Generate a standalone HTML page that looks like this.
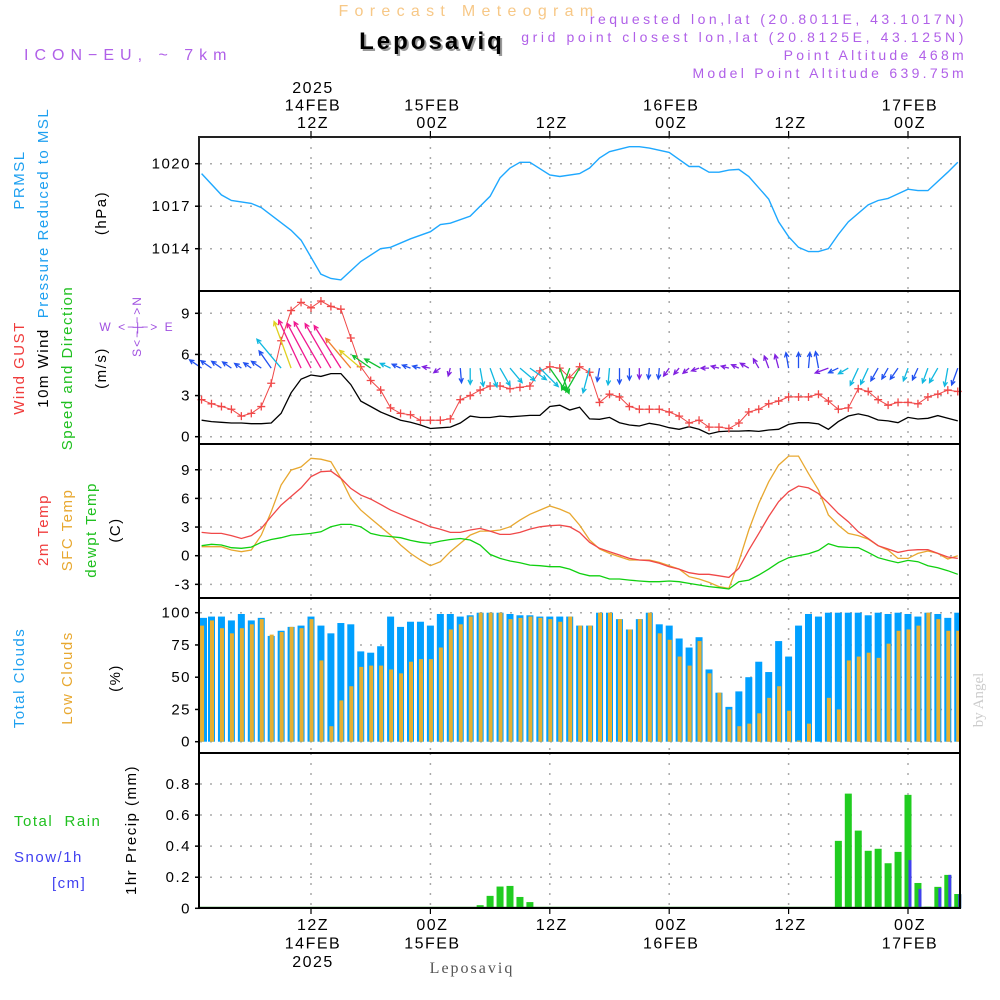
<!DOCTYPE html>
<html><head><meta charset="utf-8"><title>Meteogram Leposaviq</title>
<style>
html,body{margin:0;padding:0;background:#fff;}
svg{display:block;font-family:"Liberation Sans",sans-serif;}
.t{font-size:15px;letter-spacing:1.5px;}
</style></head>
<body>
<svg id="chart" width="1000" height="1000" viewBox="0 0 1000 1000">
<g id="texts">
<text x="469" y="16" text-anchor="middle" font-size="16" letter-spacing="6.3" fill="#f7c887">Forecast Meteogram</text>
<text x="432" y="49" text-anchor="middle" font-size="24" font-weight="bold" fill="#999" letter-spacing="3" transform="translate(2,2)">Leposaviq</text>
<text x="432" y="49" text-anchor="middle" font-size="24" font-weight="bold" fill="#000" letter-spacing="3">Leposaviq</text>
<text x="24" y="60" font-size="16" letter-spacing="6" fill="#b060e8">ICON−EU, ~ 7km</text>
<text x="967" y="24" text-anchor="end" font-size="14" letter-spacing="3.5" fill="#b060e8">requested lon,lat (20.8011E, 43.1017N)</text>
<text x="967" y="42" text-anchor="end" font-size="14" letter-spacing="3.6" fill="#b060e8">grid point closest lon,lat (20.8125E, 43.125N)</text>
<text x="967" y="60" text-anchor="end" font-size="14" letter-spacing="3.3" fill="#b060e8">Point Altitude 468m</text>
<text x="967" y="78" text-anchor="end" font-size="14" letter-spacing="3.3" fill="#b060e8">Model Point Altitude 639.75m</text>
<text x="472" y="973" text-anchor="middle" font-size="16" font-family="Liberation Serif, serif" letter-spacing="2" fill="#555">Leposaviq</text>
<text transform="translate(983,700) rotate(-90)" text-anchor="middle" font-size="15" font-family="Liberation Serif, serif" fill="#ccc">by Angel</text>
</g>
<g id="ylabels" class="t">
<text transform="translate(24,180) rotate(-90)" text-anchor="middle" fill="#1ea0f0">PRMSL</text>
<text transform="translate(48,213) rotate(-90)" text-anchor="middle" fill="#1ea0f0">Pressure Reduced to MSL</text>
<text transform="translate(106,213) rotate(-90)" text-anchor="middle" fill="#000">(hPa)</text>
<text transform="translate(24,368) rotate(-90)" text-anchor="middle" fill="#f03c3c">Wind GUST</text>
<text transform="translate(48,368) rotate(-90)" text-anchor="middle" fill="#000">10m Wind</text>
<text transform="translate(72,368) rotate(-90)" text-anchor="middle" fill="#20c020">Speed and Direction</text>
<text transform="translate(106,368) rotate(-90)" text-anchor="middle" fill="#000">(m/s)</text>
<text transform="translate(48,530) rotate(-90)" text-anchor="middle" fill="#f03c3c">2m Temp</text>
<text transform="translate(72,530) rotate(-90)" text-anchor="middle" fill="#e8a830">SFC Temp</text>
<text transform="translate(96,530) rotate(-90)" text-anchor="middle" fill="#20c020">dewpt Temp</text>
<text transform="translate(120,530) rotate(-90)" text-anchor="middle" fill="#000">(C)</text>
<text transform="translate(24,678) rotate(-90)" text-anchor="middle" fill="#1ea0f0">Total Clouds</text>
<text transform="translate(72,678) rotate(-90)" text-anchor="middle" fill="#e8a830">Low Clouds</text>
<text transform="translate(120,678) rotate(-90)" text-anchor="middle" fill="#000">(%)</text>
<text x="14" y="826" fill="#20c020">Total&#160;&#160;Rain</text>
<text x="14" y="862" fill="#4040f0">Snow/1h</text>
<text x="52" y="888" fill="#4040f0">[cm]</text>
<text transform="translate(136,830) rotate(-90)" text-anchor="middle" fill="#000">1hr Precip (mm)</text>
<g font-size="12" fill="#a050e0" letter-spacing="2">
<text x="137" y="331" text-anchor="middle">W &lt;−|−&gt; E</text>
<text transform="translate(137,326) rotate(-90)" text-anchor="middle" dy="4">S&lt;−|−&gt;N</text>
</g>
</g>
<g id="grid"></g>
<g id="marks"></g>
<g id="frames"></g>
<g id="axes" class="t"></g>
</svg>
<script>
// ---- data ----
const pHours = [1,3,4,6,7,10,11,13,14,15,17,19,20,22,24,25,26,28,30,31,32,33,34,36,37,39,40,41,42,44,45,46,48,49,50,51,52,53,54,55,56,58,59,60,61,62,63,64,65,66,68,69,70,72,73,74,76,77];
const pVals = [1019.3,1017.8,1017.4,1017.2,1016.9,1015.3,1014.6,1012.2,1011.9,1011.8,1013.1,1014.0,1014.1,1014.7,1015.2,1015.7,1015.8,1016.3,1017.7,1019.0,1019.7,1020.1,1020.1,1019.2,1019.1,1019.3,1019.7,1020.4,1020.85,1021.2,1021.2,1021.1,1020.8,1020.3,1019.8,1019.8,1019.4,1019.4,1019.55,1019.6,1019.1,1017.5,1015.9,1014.85,1014.1,1013.8,1013.8,1014.0,1015.0,1015.9,1017.1,1017.4,1017.55,1018.2,1018.1,1018.1,1019.4,1020.1];
const gust = [2.7,2.4,2.2,2.0,1.5,1.7,2.2,3.9,7.0,9.2, 9.8,9.4,9.9,9.5,9.3,7.2,5.1,4.1,3.4,2.1, 1.7,1.6,1.2,1.2,1.2,1.3,2.7,3.0,3.4,3.7, 3.7,3.5,3.6,3.7,4.8,5.1,5.0,4.3,5.1,4.7, 2.5,3.1,2.9,2.2,2.0,2.0,2.0,1.8,1.5,1.0, 1.2,0.7,0.7,0.6,1.0,1.8,2.0,2.4,2.6,2.9, 2.9,2.9,3.1,2.6,2.0,2.1,3.5,3.3,2.7,2.3, 2.5,2.5,2.4,2.9,3.1,3.4,3.3];
const wspd = [1.2,1.1,1.05,1.0,1.0,0.95,0.95,1.0,1.7,3.2, 4.2,4.5,4.4,4.6,4.6,3.8,2.6,2.2,1.8,1.5, 1.2,1.05,0.85,0.6,0.65,0.7,1.0,1.5,1.4,1.4, 1.5,1.45,1.5,1.55,1.55,2.2,2.3,1.95,2.15,1.3, 1.27,1.41,1.02,0.85,0.78,0.98,0.85,0.66,0.54,0.73, 0.54,0.2,0.37,0.41,0.41,0.44,0.39,0.49,0.54,0.9, 1.02,1.02,0.93,0.54,1.1,1.51,1.66,1.51,1.22,1.15, 1.02,1.41,1.29,1.34,1.54,1.34,1.15];
const wdir = [305,305,305,305,305,305,305,325,320,340, 335,332,330,330,328,320,310,305,300,295, 295,290,285,280,235,195,175,180,170,160, 150,140,130,125,135,145,160,200,210,195, 190,185,180,180,180,185,185,215,220,230, 250,270,285,285,295,300,330,340,345,350, 0,5,350,250,245,240,205,205,210,210, 215,200,205,200,210,190,200];
const t2m = [2.44,2.34,2.34,2.1,1.8,2.1,2.86,4.1,5.3,6.2, 7.1,8.27,8.8,8.86,8.1,7.05,6.35,5.93,5.37,4.78, 4.33,3.9,3.49,3.03,2.76,2.44,2.44,2.69,2.86,2.58, 2.23,2.23,2.44,2.79,3.03,3.14,3.2,3.03,2.44,1.4, 0.77,0.42,0.07,-0.28,-0.45,-0.52,-0.8,-1.15,-1.4,-1.78, -1.95,-1.95,-2.1,-2.27,-1.33,0.59,2.34,4.1,5.65,6.7, 7.3,7.1,6.5,5.5,4.43,3.56,2.5,1.8,1.05,0.7, 0.35,0.56,0.63,0.63,0.24,-0.14,-0.28];
const tsfc = [0.94,0.94,0.94,0.6,0.42,0.6,2.16,4.6,7.4,8.96, 9.3,10.2,10.1,9.84,8.1,6.0,4.78,3.9,3.03,2.16, 1.12,0.24,-0.45,-1.05,-0.63,0.42,1.29,2.16,2.58,2.58, 2.69,3.03,3.73,4.33,4.78,5.2,4.88,4.43,3.2,1.64, 0.7,0.24,-0.1,-0.45,-0.45,-0.45,-0.7,-1.05,-1.4,-2.2, -2.44,-2.8,-3.24,-3.42,-0.63,2.69,5.48,7.74,9.49,10.43, 10.43,8.6,6.87,4.26,3.2,2.34,2.1,1.74,1.05,0.59, -0.28,-0.28,0.24,0.49,0.24,-0.35,0];
const tdew = [1.05,1.19,1.12,0.84,0.77,0.9,1.4,1.7,1.88,2.16, 2.23,2.34,2.5,3.03,3.28,3.28,3.03,2.34,2.1,2.0, 1.88,1.6,1.4,1.29,1.53,1.7,1.8,1.64,1.12,0.14, -0.28,-0.56,-0.73,-0.98,-1.05,-1.15,-1.15,-1.4,-1.85,-2.1, -2.1,-2.44,-2.44,-2.55,-2.65,-2.72,-2.72,-2.65,-2.72,-2.9, -3.07,-3.24,-3.35,-3.49,-2.72,-2.55,-2.02,-1.4,-0.7,-0.21, 0,0.21,0.56,1.26,0.94,0.87,0.84,0.35,-0.21,-0.49, -0.73,-0.49,-0.63,-1.05,-1.26,-1.57,-1.95];
const totalClouds = [96,97,97,94,99,94,96,82,86,89, 90,97,90,84,92,91,70,69,74,97, 89,93,93,90,99,99,97,98,100,100, 100,99,98,98,97,97,97,97,90,90, 100,100,95,87,95,100,91,90,80,73, 81,56,38,27,39,50,62,54,78,66, 90,99,97,100,100,100,100,98,100,99, 100,99,97,100,99,96,100];
const lowClouds = [90,94,88,84,88,91,95,83,85,89, 88,95,63,12,32,43,58,59,59,56, 53,62,64,64,73,87,91,97,100,100, 100,95,96,97,96,95,93,97,90,90, 100,100,95,87,95,100,84,79,66,59, 78,53,38,25,12,14,22,34,43,24, 1,14,0,34,25,63,66,69,65,76, 86,87,90,100,95,86,86];
const rainHours = [29,30,31,32,33,34,35,65,66,67,68,69,70,71,72,73,74,75,76,77];
const rainVals = [0.02,0.08,0.14,0.144,0.073,0.04,0.005,0.434,0.738,0.5,0.37,0.383,0.29,0.363,0.73,0.163,0.01,0.138,0.215,0.092];
const snowHours = [33,71,72,73,75,76,77];
const snowVals = [0.005,0.005,0.31,0.125,0.13,0.215,0.09];
const pTicks = [1014,1017,1020];
const wTicks = [0,3,6,9];
const tTicks = [-3,0,3,6,9];
const cTicks = [0,25,50,75,100];
const rTicks = [0,0.2,0.4,0.6,0.8];
const topLabels = [["12Z","14FEB","2025"],["00Z","15FEB"],["12Z"],["00Z","16FEB"],["12Z"],["00Z","17FEB"]];
const gridHours = [12,24,36,48,60,72];

// ---- geometry ----
const L = 200, R = 960;
const X = h => 311 + (h - 12) * 9.95;
const P = [[137,291],[291,444],[444,598],[598,753],[753,908]];
const Yp = v => 163.7 + (1020 - v) * 14.17;
const Yw = v => 436.7 - v * 13.71;
const Yt = v => 555.7 - v * 9.55;
const Yc = v => 741.7 - v * 1.29;
const Yr = v => 908.3 - v * 155.4;
const NS = "http://www.w3.org/2000/svg";
const mk = (tag, attrs, parent) => { const e = document.createElementNS(NS, tag); for (const k in attrs) e.setAttribute(k, attrs[k]); parent.appendChild(e); return e; };
const grid = document.getElementById('grid'), marks = document.getElementById('marks'), frames = document.getElementById('frames'), axes = document.getElementById('axes');

function hgrid(ticks, Y, name) {
  ticks.forEach(v => {
    const ln = mk('line', {x1: L, x2: R, y1: Y(v), y2: Y(v), stroke: '#aaa', 'stroke-width': 1.5, 'stroke-dasharray': '2,8'}, grid);
    
    
    const tk = mk('line', {x1: L - 5, x2: L, y1: Y(v), y2: Y(v), stroke: '#000', 'stroke-width': 1.5}, axes);
    
    
    const tx = mk('text', {x: 191, y: Y(v) + 5, 'text-anchor': 'end', fill: '#000'}, axes);
    tx.textContent = String(v);
    
    
  });
}
hgrid(pTicks, Yp, 'pressure');
hgrid(wTicks, Yw, 'wind');
hgrid(tTicks, Yt, 'temp');
hgrid(cTicks, Yc, 'clouds');
hgrid(rTicks, Yr, 'precip');
gridHours.forEach(h => {
  P.forEach(p => {
    const ln = mk('line', {x1: X(h), x2: X(h), y1: p[0], y2: p[1], stroke: '#aaa', 'stroke-width': 1.5, 'stroke-dasharray': '2,8'}, grid);
    
    
  });
});

function polyline(hours, vals, Y, color, name, w) {
  const pts = vals.map((v, i) => X(hours[i]).toFixed(1) + ',' + Y(v).toFixed(1)).join(' ');
  const pl = mk('polyline', {points: pts, fill: 'none', stroke: color, 'stroke-width': w || 1.3}, marks);
  
  
}
const hrs = totalClouds.map((_, i) => i + 1);

// clouds
totalClouds.forEach((v, i) => {
  const x = X(i + 1);
  const b = mk('rect', {x: Math.max(L, x - 3.5), y: Yc(v), width: Math.min(7, R - Math.max(L, x - 3.5)), height: Yc(0) - Yc(v), fill: '#00a0ff'}, marks);
  
  
});
lowClouds.forEach((v, i) => {
  const x = X(i + 1);
  const b = mk('rect', {x: Math.max(L, x - 1.5), y: Yc(v), width: 4, height: Yc(0) - Yc(v), fill: '#e8b030'}, marks);
  
  
});

// precip
rainVals.forEach((v, i) => {
  const x = X(rainHours[i]);
  const b = mk('rect', {x: x - 3.5, y: Yr(v), width: 7, height: Yr(0) - Yr(v), fill: '#20cc20'}, marks);
  
  
});
snowVals.forEach((v, i) => {
  const x = X(snowHours[i]);
  const b = mk('rect', {x: x + 0.5, y: Yr(v), width: 3, height: Yr(0) - Yr(v), fill: '#4040f0'}, marks);
  
  
});
const zl = mk('line', {x1: L, x2: R, y1: Yr(0) - 1, y2: Yr(0) - 1, stroke: '#1a8a1a', 'stroke-width': 1}, marks);



// pressure
polyline(pHours, pVals, Yp, '#1ea8ff', 'pressure-line', 1.4);
// temps
polyline(hrs, tsfc, Yt, '#e8a830', 'sfc-temp-line');
polyline(hrs, t2m, Yt, '#f04848', 'temp-2m-line');
polyline(hrs, tdew, Yt, '#10d010', 'dewpoint-line');
// wind speed
polyline(hrs, wspd, Yw, '#000', 'wind-speed-line');
// gust
polyline(hrs, gust, Yw, '#f04848', 'gust-line', 1);
gust.forEach((v, i) => {
  const x = X(i + 1), y = Yw(v);
  const c = mk('path', {d: `M${x-4},${y}H${x+4}M${x},${y-4}V${y+4}`, stroke: '#f04848', 'stroke-width': 1.3}, marks);
  
  
});
// wind arrows
function arrowColor(s) {
  if (s < 0.8) return '#8020e0';
  if (s < 1.3) return '#2050f0';
  if (s < 1.8) return '#10b8e0';
  if (s < 2.5) return '#10c030';
  if (s < 3.3) return '#e0d020';
  if (s < 3.9) return '#f08030';
  return '#f01890';
}
wdir.forEach((d, i) => {
  const x0 = X(i + 1), y0 = Yw(5);
  const len = Math.max(8, gust[i] * 5.4);
  const a = d * Math.PI / 180;
  const x1 = x0 + len * Math.sin(a), y1 = y0 - len * Math.cos(a);
  const hl = 5, ha = 0.45;
  const bx = x1 - hl * Math.sin(a - ha), by = y1 + hl * Math.cos(a - ha);
  const cx = x1 - hl * Math.sin(a + ha), cy = y1 + hl * Math.cos(a + ha);
  const col = arrowColor(wspd[i]);
  const p = mk('path', {d: `M${x0.toFixed(1)},${y0.toFixed(1)}L${x1.toFixed(1)},${y1.toFixed(1)}M${bx.toFixed(1)},${by.toFixed(1)}L${x1.toFixed(1)},${y1.toFixed(1)}L${cx.toFixed(1)},${cy.toFixed(1)}`, stroke: col, 'stroke-width': 1.3, fill: 'none'}, marks);
  
  
});

// frames
P.forEach((p, i) => {
  const r = mk('rect', {x: L - 1, y: p[0], width: R - L + 1, height: p[1] - p[0], fill: 'none', stroke: i === 0 ? '#222' : '#000', 'stroke-width': 2}, frames);
  
  
});

// time labels
gridHours.forEach((h, i) => {
  const x = X(h) + 2;
  const lab = topLabels[i];
  const tk = mk('line', {x1: x - 2, x2: x - 2, y1: 131, y2: 137, stroke: '#000', 'stroke-width': 1.2}, axes);
  
  
  const bt = mk('line', {x1: x - 2, x2: x - 2, y1: 908, y2: 914, stroke: '#000', 'stroke-width': 1.2}, axes);
  
  
  lab.forEach((s, j) => {
    const t = mk('text', {x: x, y: 128 - j * 17.5, 'text-anchor': 'middle', fill: '#000', 'font-size': 16}, axes);
    t.textContent = s;
    
    
    const b = mk('text', {x: x, y: 930 + j * 18.5, 'text-anchor': 'middle', fill: '#000', 'font-size': 16}, axes);
    b.textContent = s;
    
    
  });
});
</script>
</body></html>
